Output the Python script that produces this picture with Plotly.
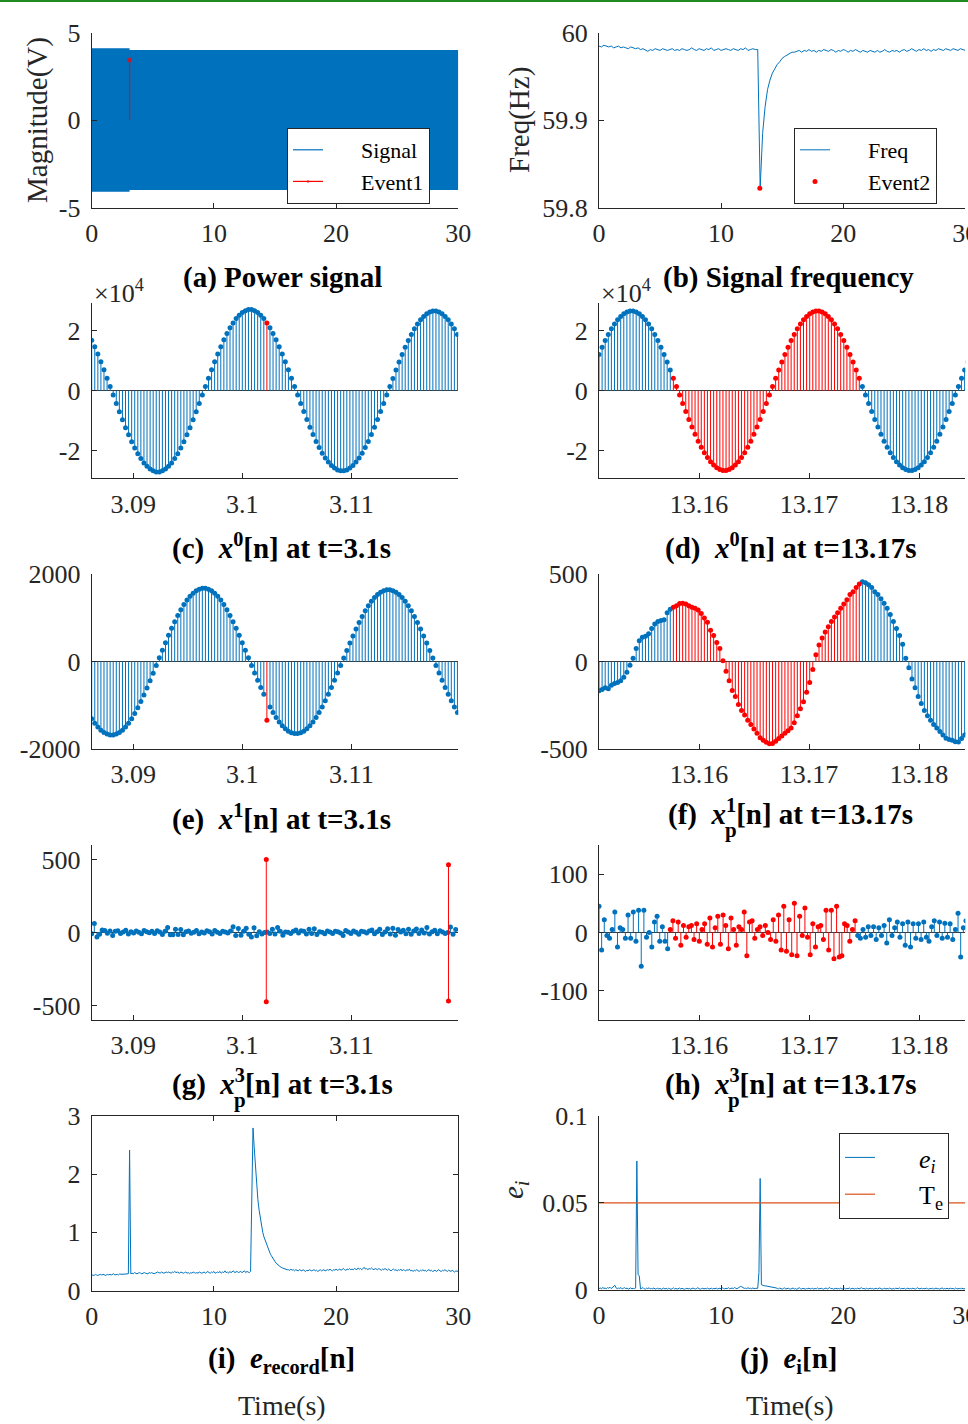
import numpy as np
import plotly.graph_objects as go

# ======================= DATA =======================
# (a) power signal: envelope of the dense 60 Hz waveform (V)
sig_env_t = [0, 3.1, 3.1, 30]
sig_env_hi = [4.12, 4.12, 4.03, 4.03]
sig_env_lo = [-4.10, -4.10, -4.00, -4.00]
event1_t = [3.1]
event1_v = [3.45]

# (b) frequency (Hz), samples every 0.2 s from 0 to 30 s
freq_t0, freq_dt = 0.0, 0.2
freq_v = [
    59.985, 59.984, 59.986, 59.985, 59.984, 59.985, 59.983, 59.984, 59.985, 59.983,
    59.984, 59.983, 59.982, 59.984, 59.983, 59.982, 59.983, 59.981, 59.982, 59.980,
    59.979, 59.981, 59.980, 59.982, 59.981, 59.980, 59.982, 59.981, 59.980, 59.981,
    59.982, 59.980, 59.981, 59.980, 59.982, 59.981, 59.980, 59.981, 59.983, 59.981,
    59.980, 59.982, 59.981, 59.980, 59.982, 59.981, 59.983, 59.980, 59.981, 59.982,
    59.980, 59.981, 59.982, 59.981, 59.980, 59.982, 59.981, 59.980, 59.982, 59.981,
    59.983, 59.980, 59.981, 59.982, 59.981, 59.981, 59.822, 59.885, 59.915, 59.935,
    59.946, 59.954, 59.959, 59.964, 59.967, 59.971, 59.973, 59.975, 59.976, 59.978,
    59.978, 59.979, 59.980, 59.978, 59.980, 59.979, 59.981, 59.979, 59.980, 59.978,
    59.980, 59.979, 59.981, 59.980, 59.979, 59.981, 59.980, 59.978, 59.980, 59.979,
    59.981, 59.980, 59.978, 59.980, 59.979, 59.981, 59.979, 59.978, 59.980, 59.979,
    59.978, 59.980, 59.979, 59.978, 59.980, 59.978, 59.979, 59.981, 59.979, 59.978,
    59.980, 59.979, 59.980, 59.978, 59.980, 59.981, 59.979, 59.980, 59.982, 59.980,
    59.979, 59.981, 59.980, 59.982, 59.980, 59.981, 59.979, 59.981, 59.980, 59.982,
    59.981, 59.980, 59.982, 59.981, 59.980, 59.982, 59.981, 59.980, 59.982, 59.981,
    59.980]
event2_t = [13.17]
event2_v = [59.822]

# (c) x0[n] around t=3.1 s (units of 1e4)
x0c_t0, x0c_dt = 3.0862, 0.0002817
x0c_v = [
    1.69, 1.47, 1.23, 0.97, 0.70, 0.42, 0.14,
    -0.14, -0.42, -0.70, -0.97, -1.23, -1.47, -1.70, -1.91, -2.10, -2.26, -2.41, -2.52, -2.61, -2.67, -2.71,
    -2.71, -2.67, -2.61, -2.52, -2.41, -2.26, -2.10, -1.91, -1.70, -1.47, -1.23, -0.97, -0.70, -0.42, -0.14,
    0.14, 0.42, 0.70, 0.97, 1.23, 1.47, 1.70, 1.91, 2.10, 2.26, 2.41, 2.52, 2.61, 2.67, 2.71,
    2.71, 2.67, 2.61, 2.52, 2.41, 2.26, 2.10, 1.91, 1.70, 1.47, 1.23, 0.97, 0.70, 0.42, 0.14,
    -0.14, -0.42, -0.69, -0.96, -1.22, -1.46, -1.69, -1.89, -2.08, -2.24, -2.38, -2.49, -2.58, -2.64, -2.67,
    -2.67, -2.64, -2.58, -2.49, -2.38, -2.24, -2.08, -1.89, -1.69, -1.46, -1.22, -0.96, -0.69, -0.42, -0.14,
    0.14, 0.41, 0.69, 0.96, 1.21, 1.45, 1.68, 1.88, 2.07, 2.23, 2.37, 2.48, 2.57, 2.63, 2.66,
    2.66, 2.63, 2.57, 2.48, 2.37, 2.23, 2.07, 1.88]
x0c_event_idx = [57]

# (d) x0[n] around t=13.17 s (units of 1e4)
x0d_t0, x0d_dt = 13.1509, 0.0002817
x0d_v = [
    1.21, 1.45, 1.68, 1.88, 2.07, 2.23, 2.37, 2.48, 2.57, 2.63, 2.66, 2.66, 2.63, 2.57, 2.48, 2.37,
    2.23, 2.07, 1.88, 1.68, 1.45, 1.21, 0.96, 0.69, 0.42, 0.14,
    -0.14, -0.42, -0.69, -0.96, -1.21, -1.45, -1.68, -1.88, -2.07, -2.23, -2.37, -2.48, -2.57, -2.63, -2.66,
    -2.66, -2.63, -2.57, -2.48, -2.37, -2.23, -2.07, -1.88, -1.68, -1.45, -1.21, -0.96, -0.69, -0.42, -0.14,
    0.14, 0.42, 0.69, 0.96, 1.21, 1.45, 1.68, 1.88, 2.07, 2.23, 2.37, 2.48, 2.57, 2.63, 2.66,
    2.66, 2.63, 2.57, 2.48, 2.37, 2.23, 2.07, 1.88, 1.68, 1.45, 1.21, 0.96, 0.69, 0.42, 0.14,
    -0.14, -0.42, -0.69, -0.96, -1.21, -1.45, -1.68, -1.88, -2.07, -2.23, -2.37, -2.48, -2.57, -2.63, -2.66,
    -2.66, -2.63, -2.57, -2.48, -2.37, -2.23, -2.07, -1.88, -1.68, -1.45, -1.21, -0.96, -0.69, -0.42, -0.14,
    0.14, 0.42, 0.69, 0.96]
x0d_event_win = [24, 84]

# (e) x1[n] around t=3.1 s
x1e_t0, x1e_dt = 3.0862, 0.0002817
x1e_v = [
    -1306, -1409, -1497, -1568, -1623, -1659, -1678, -1678, -1659, -1623, -1568,
    -1497, -1409, -1306, -1188, -1057, -915, -763, -602, -435, -263, -88,
    88, 263, 435, 602, 763, 915, 1057, 1188, 1306, 1409, 1497, 1568, 1623, 1659, 1678,
    1678, 1659, 1623, 1568, 1497, 1409, 1306, 1188, 1057, 915, 763, 602, 435, 263, 88,
    -86, -258, -426, -590, -748, -1340, -1036, -1164, -1280, -1381, -1467, -1537, -1591, -1626, -1644,
    -1644, -1626, -1591, -1537, -1467, -1381, -1280, -1164, -1036, -897, -748, -590, -426, -258, -86,
    86, 258, 426, 590, 748, 897, 1036, 1164, 1280, 1381, 1467, 1537, 1591, 1626, 1644,
    1644, 1626, 1591, 1537, 1467, 1381, 1280, 1164, 1036, 897, 748, 590, 426, 258, 86,
    -86, -258, -426, -590, -748, -897, -1036, -1164]
x1e_event_idx = [57]

# (f) x_p^1[n] around t=13.17 s
x1f_t0, x1f_dt = 13.1509, 0.0002817
x1f_v = [
    -167, -160, -150, -155, -135, -125, -120, -110, -90, -60,
    -20, 20, 75, 120, 140, 145, 160, 190, 215, 230,
    235, 240, 280, 300, 312, 320, 333, 335, 330, 320,
    312, 305, 295, 275, 250, 225, 180, 150, 110, 75,
    5, -55, -110, -165, -200, -245, -280, -305, -335, -360,
    -385, -410, -435, -450, -462, -470, -468, -455, -440, -425,
    -410, -395, -380, -350, -310, -270, -230, -175, -120, -45,
    40, 95, 135, 170, 200, 230, 255, 280, 305, 330,
    355, 385, 400, 425, 445, 458, 452, 440, 425, 400,
    385, 360, 335, 305, 270, 230, 190, 150, 100, 20,
    -35, -100, -150, -200, -240, -280, -310, -335, -360, -380,
    -400, -420, -438, -445, -450, -458, -460, -440, -420, -410]
x1f_event_win = [24, 84]

# (g) x_p^3[n] around t=3.1 s
x3g_t0, x3g_dt = 3.0862, 0.00024
x3g_v = [
    -8, 62, -30, -12, 18, 14, -5, 10, -20, 8,
    12, -6, 4, 16, -10, 6, -4, 10, 2, -8,
    14, 6, -2, 8, -6, 12, 4, -14, 8, 35,
    -15, -15, 22, -14, 20, -16, 6, 10, -5, 2,
    14, -8, 4, -4, 12, 6, -10, 14, 2, -6,
    8, 4, -4, 10, 40, -20, 28, -18, 8, 30,
    -12, -30, 32, -22, 6, -10, 0, 4, -6, 22,
    -10, 35, 8, -18, 4, 2, -6, 8, 18, -4,
    12, 8, -10, 22, -6, 25, -14, 6, 2, -8,
    10, 4, -6, 8, 6, -4, -20, 14, 4, -6,
    10, 2, -12, 8, 6, -4, 10, 18, -8, 6,
    22, -14, 4, 26, -10, 30, -18, 20, 4, 16,
    -8, 22, -12, 10, 24, -6, 18, -4, 35, -10,
    6, 15, -8, 12, 4, -6, 0, 38, -12, 20]
x3g_event_t = [3.1022, 3.1022, 3.1189, 3.1189]
x3g_event_v = [500, -475, 465, -470]

# (h) x_p^3[n] around t=13.17 s
x3h_t0, x3h_dt = 13.1509, 0.00024
x3h_v = [
    45, -30, 22, -5, -10, 5, 35, -25, 8, 5,
    -10, 30, -10, 35, -15, 38, -58, 38, -8, 0,
    -25, 18, 28, -15, 10, -15, -28,
    5, 20, -10, 18, -22, 12, -8, 10, 12, -12,
    15, -15, 5, 15, -20, 25, -25, 8, 28, -20,
    30, 12, -28, 25, 5, -22, 10, 5, 35, -40,
    18, 20, -10, 5, 10, -5, 12, 0, -12, 22,
    -15, 30, -30, 45, -32, 22, -38, 50, -40, 28,
    -5, 42, -8, -38, 15, -25, 10, 12, -12, 38,
    -30, 38, -45, 45, -42, -40, 15, 12, -15, 5,
    20,
    -5, -10, 5, -8, 10, -5, 10, -12, 8, -5,
    12, -18, 22, -5, 8, 18, -8, 15, -22, 18,
    -25, 15, -10, 15, -12, 18, -8, -15, 10, 20,
    -5, 18, -10, 16, -8, 15, -12, 5, 33, -42,
    8, 20]
x3h_event_win = [27, 97]

# (i) e_record[n], samples every 0.1 s
erec_t0, erec_dt = 0.0, 0.1
erec_v = [
    0.26, 0.27, 0.26, 0.28, 0.27, 0.26, 0.27, 0.28, 0.27, 0.27,
    0.28, 0.26, 0.27, 0.28, 0.27, 0.28, 0.27, 0.28, 0.29, 0.27,
    0.28, 0.28, 0.27, 0.29, 0.28, 0.28, 0.29, 0.28, 0.29, 0.28,
    0.29, 2.41,
    0.29, 0.30, 0.29, 0.31, 0.30, 0.29, 0.30, 0.31, 0.30, 0.29,
    0.30, 0.31, 0.30, 0.30, 0.29, 0.31, 0.30, 0.31, 0.30, 0.29,
    0.30, 0.31, 0.32, 0.31, 0.30, 0.32, 0.31, 0.30, 0.31, 0.32,
    0.31, 0.32, 0.31, 0.30, 0.32, 0.31, 0.33, 0.31, 0.32, 0.31,
    0.30, 0.32, 0.31, 0.30, 0.31, 0.32, 0.30, 0.31, 0.29, 0.31,
    0.30, 0.32, 0.31, 0.30, 0.31, 0.30, 0.32, 0.31, 0.30, 0.31,
    0.32, 0.30, 0.31, 0.33, 0.31, 0.30, 0.32, 0.31, 0.33, 0.30,
    0.31, 0.32, 0.31, 0.33, 0.30, 0.32, 0.31, 0.34, 0.31, 0.32,
    0.30, 0.33, 0.31, 0.32, 0.34, 0.31, 0.32, 0.33, 0.31, 0.32,
    0.33, 0.31, 0.32, 0.34, 0.31, 0.33, 0.32, 0.31,
    0.33, 1.55, 2.79,
    2.45, 2.10, 1.80, 1.56, 1.38, 1.23, 1.10, 1.00, 0.92, 0.86,
    0.79, 0.74, 0.69, 0.64, 0.60, 0.56, 0.52, 0.50, 0.47, 0.45,
    0.43, 0.42, 0.40, 0.39, 0.38, 0.37, 0.37, 0.36,
    0.36, 0.35, 0.37, 0.35, 0.36, 0.34, 0.36, 0.35, 0.34, 0.36,
    0.35, 0.34, 0.36, 0.35, 0.33, 0.35, 0.34, 0.36, 0.35, 0.34,
    0.35, 0.36, 0.34, 0.35, 0.33, 0.35, 0.36, 0.34, 0.35, 0.36,
    0.34, 0.35, 0.36, 0.35, 0.37, 0.35, 0.34, 0.36, 0.35, 0.37,
    0.35, 0.36, 0.37, 0.35, 0.36, 0.38, 0.36, 0.35, 0.37, 0.36,
    0.38, 0.36, 0.37, 0.36, 0.38, 0.37, 0.36, 0.39, 0.37, 0.38,
    0.36, 0.38, 0.40, 0.37, 0.38, 0.36, 0.38, 0.37, 0.39, 0.37,
    0.36, 0.38, 0.37, 0.36, 0.38, 0.37, 0.35, 0.37, 0.36, 0.38,
    0.36, 0.35, 0.37, 0.36, 0.34, 0.36, 0.37, 0.35, 0.36, 0.34,
    0.36, 0.35, 0.37, 0.34, 0.36, 0.35, 0.34, 0.36, 0.35, 0.37,
    0.34, 0.35, 0.33, 0.35, 0.34, 0.36, 0.34, 0.33, 0.35, 0.34,
    0.36, 0.34, 0.35, 0.33, 0.35, 0.36, 0.34, 0.35, 0.33, 0.34,
    0.35, 0.33, 0.34, 0.36, 0.34, 0.33, 0.35, 0.34, 0.36, 0.34,
    0.33, 0.35, 0.34, 0.33, 0.35, 0.34, 0.32, 0.34, 0.33, 0.33]

# (j) e_i[n] in units of 1e-3, samples every 0.1 s
ei_t0, ei_dt = 0.0, 0.1
ei_milli = [
    0.8, 1.2, 0.6, 1.5, 0.9, 1.1, 0.7, 1.4, 1.0, 1.6,
    0.8, 1.3, 1.9, 2.7, 1.2, 0.7, 1.1, 0.9, 1.4, 0.6,
    1.0, 1.3, 0.8, 1.1, 0.5, 0.9, 1.2, 0.7, 1.0, 0.8,
    1.1, 74, 9, 8,
    0.6, 0.9, 1.4, 0.7, 0.5, 1.1, 0.8, 1.3, 0.6, 0.9,
    0.7, 1.2, 0.5, 0.8, 1.0, 0.6, 0.9, 0.4, 0.8, 1.1,
    0.6, 0.9, 0.5, 1.0, 0.7, 0.4, 0.8, 1.2, 0.6, 0.9,
    0.5, 0.8, 1.1, 0.6, 0.9, 0.7, 0.4, 0.8, 1.0, 0.6,
    0.9, 0.5, 0.7, 1.1, 0.8, 0.6, 0.9, 1.3, 0.7, 0.5,
    0.8, 1.0, 0.6, 0.9, 0.7, 1.2, 0.5, 0.8, 1.0, 0.6,
    0.9, 0.7, 1.1, 0.6, 0.8, 1.0, 0.7, 1.2, 0.9, 0.6,
    1.0, 0.8, 1.3, 0.7, 0.9, 1.1, 0.8, 1.4, 1.0, 0.7,
    1.2, 1.6, 2.1, 1.8, 1.2, 0.9, 1.1, 0.8, 1.3, 0.9,
    1.0, 0.7, 1.2, 0.8, 0.9, 1.1,
    1.0, 10, 64,
    3.0, 2.6, 2.5, 2.4, 2.3, 2.2, 2.0, 1.9, 1.8, 1.6, 1.5, 1.3, 1.2,
    0.9, 0.6, 1.1, 0.7, 0.5, 0.9, 1.2, 0.6, 0.8, 1.0,
    0.7, 0.5, 0.9, 1.1, 0.6, 0.8, 0.4, 0.9, 1.3, 0.7,
    0.6, 1.0, 0.8, 0.5, 0.9, 0.7, 1.1, 0.6, 0.8, 1.0,
    0.5, 0.9, 0.7, 1.2, 0.6, 0.8, 1.0, 0.7, 0.5, 0.9,
    1.1, 0.6, 0.8, 1.4, 0.7, 0.9, 0.5, 0.8, 1.0, 0.6,
    0.9, 0.7, 1.1, 0.5, 0.8, 1.0, 0.6, 0.9, 0.7, 1.2,
    0.6, 0.8, 1.0, 0.5, 0.9, 0.7, 1.1, 0.6, 0.8, 1.3,
    0.7, 0.9, 0.5, 1.0, 0.8, 0.6, 1.1, 0.7, 0.9, 0.5,
    0.8, 1.0, 0.6, 0.9, 1.2, 0.7, 0.5, 0.8, 1.0, 0.6,
    0.9, 0.7, 1.1, 0.8, 0.5, 0.9, 0.6, 1.0, 0.7, 0.8,
    1.2, 0.6, 0.9, 0.7, 1.0, 0.5, 0.8, 1.1, 0.6, 0.9,
    0.7, 1.0, 0.8, 0.5, 0.9, 1.3, 0.6, 0.8, 1.0, 0.7,
    0.9, 0.6, 1.1, 0.8, 0.5, 0.9, 0.7, 1.0, 0.6, 0.8,
    1.1, 0.7, 0.9, 0.5, 0.8, 1.2, 0.6, 0.9, 0.7, 1.0,
    0.6, 0.8, 1.0, 0.7, 0.9, 0.5, 1.1, 0.8, 0.6, 0.9,
    0.7, 1.0, 0.8, 0.6, 0.9]
threshold_t = [0, 30]
threshold_v = [0.05, 0.05]

# ======================= STYLE =======================
W, H = 968, 1424
BLUE, RED, ORANGE = '#0072BD', '#FF0000', '#D95319'
FONT = 'Liberation Serif'
AXC = '#262626'
NB = '\u00a0'


def px(x):
    return x / W


def py(y):
    return 1 - y / H


def grid(t0, dt, n):
    return t0 + dt * np.arange(n)


# panel boxes in pixels: left, right, top, bottom
GEOM = {
    1: (91.7, 458.3, 33.0, 207.5), 2: (599.0, 965.3, 33.0, 207.5),
    3: (91.7, 458.3, 303.3, 478.3), 4: (599.0, 965.3, 303.3, 478.3),
    5: (91.7, 458.3, 574.3, 749.0), 6: (599.0, 965.3, 574.3, 749.0),
    7: (91.7, 458.3, 845.0, 1020.0), 8: (599.0, 965.3, 845.0, 1020.0),
    9: (91.7, 458.3, 1115.7, 1290.7), 10: (599.0, 965.3, 1115.7, 1290.0),
}

fig = go.Figure()


def ax(i):
    return ('x' if i == 1 else 'x%d' % i), ('y' if i == 1 else 'y%d' % i)


def add_stems(i, tt, vv, color, msize=5):
    xa, ya = ax(i)
    xs, ys = [], []
    for a, b in zip(tt, vv):
        xs += [a, a, None]
        ys += [0, b, None]
    fig.add_trace(go.Scatter(x=xs, y=ys, mode='lines', line=dict(color=color, width=1),
                             xaxis=xa, yaxis=ya, showlegend=False, hoverinfo='skip'))
    fig.add_trace(go.Scatter(x=list(tt), y=list(vv), mode='markers',
                             marker=dict(color=color, size=msize, line=dict(width=0)),
                             xaxis=xa, yaxis=ya, showlegend=False, hoverinfo='skip'))


def split_win(tt, vv, win):
    a, b = win
    inside = [(t, v) for k, (t, v) in enumerate(zip(tt, vv)) if a <= k <= b]
    outside = [(t, v) for k, (t, v) in enumerate(zip(tt, vv)) if not (a <= k <= b)]
    return outside, inside


# ---- (a) ----
fig.add_trace(go.Scatter(x=sig_env_t, y=sig_env_lo, mode='lines', line=dict(width=0, color=BLUE),
                         xaxis='x', yaxis='y', showlegend=False, hoverinfo='skip'))
fig.add_trace(go.Scatter(x=sig_env_t, y=sig_env_hi, mode='lines', line=dict(width=0, color=BLUE),
                         fill='tonexty', fillcolor=BLUE, xaxis='x', yaxis='y', showlegend=False,
                         hoverinfo='skip'))
fig.add_trace(go.Scatter(x=[None], y=[None], mode='lines', line=dict(color=BLUE, width=1.2),
                         name=NB * 6 + 'Signal', xaxis='x', yaxis='y', legend='legend'))
for t, v in zip(event1_t, event1_v):
    fig.add_trace(go.Scatter(x=[t, t], y=[0, v], mode='lines+markers',
                             line=dict(color=RED, width=1.2),
                             marker=dict(color=RED, size=[0, 5], line=dict(width=0)),
                             name=NB * 6 + 'Event1', xaxis='x', yaxis='y', legend='legend'))

# ---- (b) ----
freq_t = grid(freq_t0, freq_dt, len(freq_v))
fig.add_trace(go.Scatter(x=freq_t, y=freq_v, mode='lines', line=dict(color=BLUE, width=1),
                         name=NB * 6 + 'Freq', xaxis='x2', yaxis='y2', legend='legend2'))
fig.add_trace(go.Scatter(x=event2_t, y=event2_v, mode='markers', marker=dict(color=RED, size=5),
                         name=NB * 6 + 'Event2', xaxis='x2', yaxis='y2', legend='legend2'))

# ---- (c) ----
tc = grid(x0c_t0, x0c_dt, len(x0c_v))
blue_c = [(t, v) for k, (t, v) in enumerate(zip(tc, x0c_v)) if k not in x0c_event_idx]
red_c = [(t, v) for k, (t, v) in enumerate(zip(tc, x0c_v)) if k in x0c_event_idx]
add_stems(3, [p[0] for p in blue_c], [p[1] for p in blue_c], BLUE)
add_stems(3, [p[0] for p in red_c], [p[1] for p in red_c], RED)

# ---- (d) ----
td = grid(x0d_t0, x0d_dt, len(x0d_v))
o, ins = split_win(td, x0d_v, x0d_event_win)
add_stems(4, [p[0] for p in o], [p[1] for p in o], BLUE)
add_stems(4, [p[0] for p in ins], [p[1] for p in ins], RED)

# ---- (e) ----
te = grid(x1e_t0, x1e_dt, len(x1e_v))
blue_e = [(t, v) for k, (t, v) in enumerate(zip(te, x1e_v)) if k not in x1e_event_idx]
red_e = [(t, v) for k, (t, v) in enumerate(zip(te, x1e_v)) if k in x1e_event_idx]
add_stems(5, [p[0] for p in blue_e], [p[1] for p in blue_e], BLUE)
add_stems(5, [p[0] for p in red_e], [p[1] for p in red_e], RED)

# ---- (f) ----
tf = grid(x1f_t0, x1f_dt, len(x1f_v))
o, ins = split_win(tf, x1f_v, x1f_event_win)
add_stems(6, [p[0] for p in o], [p[1] for p in o], BLUE)
add_stems(6, [p[0] for p in ins], [p[1] for p in ins], RED)

# ---- (g) ----
tg = grid(x3g_t0, x3g_dt, len(x3g_v))
add_stems(7, tg, x3g_v, BLUE)
add_stems(7, x3g_event_t, x3g_event_v, RED)

# ---- (h) ----
th = grid(x3h_t0, x3h_dt, len(x3h_v))
o, ins = split_win(th, x3h_v, x3h_event_win)
add_stems(8, [p[0] for p in o], [p[1] for p in o], BLUE)
add_stems(8, [p[0] for p in ins], [p[1] for p in ins], RED)

# ---- (i) ----
ti = grid(erec_t0, erec_dt, len(erec_v))
fig.add_trace(go.Scatter(x=ti, y=erec_v, mode='lines', line=dict(color=BLUE, width=1),
                         xaxis='x9', yaxis='y9', showlegend=False, hoverinfo='skip'))

# ---- (j) ----
tj = grid(ei_t0, ei_dt, len(ei_milli))
fig.add_trace(go.Scatter(x=tj, y=[v / 1000.0 for v in ei_milli], mode='lines',
                         line=dict(color=BLUE, width=1), name=NB * 6 + '<i>e<sub>i</sub></i>',
                         xaxis='x10', yaxis='y10', legend='legend3'))
fig.add_trace(go.Scatter(x=threshold_t, y=threshold_v, mode='lines',
                         line=dict(color=ORANGE, width=1.2), name=NB * 6 + 'T<sub>e</sub>',
                         xaxis='x10', yaxis='y10', legend='legend3'))

# ======================= AXES =======================
tickfont = dict(family=FONT, size=26, color=AXC)


def base_axis(**kw):
    d = dict(showline=True, linecolor=AXC, linewidth=1, ticks='inside', ticklen=5,
             tickcolor=AXC, tickwidth=1, showgrid=False, zeroline=False, tickfont=tickfont,
             fixedrange=True, automargin=False, ticklabeloverflow='allow')
    d.update(kw)
    return d


x_full = dict(range=[0, 30], tickvals=[0, 10, 20, 30], ticktext=['0', '10', '20', '30'])
x_c = dict(range=[3.0862, 3.1198], tickvals=[3.09, 3.1, 3.11], ticktext=['3.09', '3.1', '3.11'])
x_d = dict(range=[13.1509, 13.1842], tickvals=[13.16, 13.17, 13.18],
           ticktext=['13.16', '13.17', '13.18'])

YSPEC = {
    1: dict(range=[-5, 5], tickvals=[-5, 0, 5], ticktext=['-5', '0', '5']),
    2: dict(range=[59.8, 60], tickvals=[59.8, 59.9, 60], ticktext=['59.8', '59.9', '60']),
    3: dict(range=[-2.92, 2.92], tickvals=[-2, 0, 2], ticktext=['-2', '0', '2']),
    4: dict(range=[-2.92, 2.92], tickvals=[-2, 0, 2], ticktext=['-2', '0', '2']),
    5: dict(range=[-2000, 2000], tickvals=[-2000, 0, 2000], ticktext=['-2000', '0', '2000']),
    6: dict(range=[-500, 500], tickvals=[-500, 0, 500], ticktext=['-500', '0', '500']),
    7: dict(range=[-600, 600], tickvals=[-500, 0, 500], ticktext=['-500', '0', '500']),
    8: dict(range=[-150, 150], tickvals=[-100, 0, 100], ticktext=['-100', '0', '100']),
    9: dict(range=[0, 3], tickvals=[0, 1, 2, 3], ticktext=['0', '1', '2', '3']),
    10: dict(range=[0, 0.1], tickvals=[0, 0.05, 0.1], ticktext=['0', '0.05', '0.1']),
}
XSPEC = {1: x_full, 2: x_full, 3: x_c, 4: x_d, 5: x_c, 6: x_d, 7: x_c, 8: x_d, 9: x_full, 10: x_full}

layout_axes = {}
for i in range(1, 11):
    l, r, t, b = GEOM[i]
    xa, ya = ax(i)
    xkey = 'xaxis' if i == 1 else 'xaxis%d' % i
    ykey = 'yaxis' if i == 1 else 'yaxis%d' % i
    xd = base_axis(domain=[px(l), px(r)], anchor=ya, ticklabelstandoff=2, **XSPEC[i])
    yd = base_axis(domain=[py(b), py(t)], anchor=xa, ticklabelstandoff=5, **YSPEC[i])
    if 3 <= i <= 8:
        yd.update(zeroline=True, zerolinecolor='#3a3a3a', zerolinewidth=1)
    if i == 9:
        xd.update(mirror='ticks')
        yd.update(mirror='ticks')
    layout_axes[xkey] = xd
    layout_axes[ykey] = yd

fig.update_layout(**layout_axes)

# ======================= TEXT =======================
ann = []


def text(x, y, s, size=29, color='black', xanchor='center', yanchor='middle', angle=0):
    ann.append(dict(x=px(x), y=py(y), xref='paper', yref='paper', text=s, showarrow=False,
                    xanchor=xanchor, yanchor=yanchor, textangle=angle,
                    font=dict(family=FONT, size=size, color=color)))


text(282, 277, '<b>(a) Power signal</b>')
text(788, 277, '<b>(b) Signal frequency</b>')
text(281, 546, '<b>(c)' + NB + ' <i>x</i><sup>0</sup>[n] at t=3.1s</b>')
text(790, 546, '<b>(d)' + NB + ' <i>x</i><sup>0</sup>[n] at t=13.17s</b>')
text(281, 817, '<b>(e)' + NB + ' <i>x</i><sup>1</sup>[n] at t=3.1s</b>')
text(790, 812, '<b>(f)' + NB + ' <i>x</i><sup>1</sup>[n] at t=13.17s</b>')
text(731, 830, '<b>p</b>', size=21)
text(282, 1082, '<b>(g)' + NB + ' <i>x</i><sup>3</sup>[n] at t=3.1s</b>')
text(240, 1100, '<b>p</b>', size=21)
text(790, 1082, '<b>(h)' + NB + ' <i>x</i><sup>3</sup>[n] at t=13.17s</b>')
text(734, 1100, '<b>p</b>', size=21)
text(281, 1360, '<b>(i)' + NB + ' <i>e</i><sub>record</sub>[n]</b>')
text(788, 1360, '<b>(j)' + NB + ' <i>e</i><sub>i</sub>[n]</b>')
text(282, 1405, 'Time(s)', size=28, color=AXC)
text(790, 1405, 'Time(s)', size=28, color=AXC)
text(38, 120, 'Magnitude(V)', size=29, color=AXC, angle=-90)
text(520, 120, 'Freq(Hz)', size=29, color=AXC, angle=-90)
text(515, 1190, '<i>e<sub>i</sub></i>', size=29, color=AXC, angle=-90)
text(92, 291, '\u00d710<sup>4</sup>', size=26, color=AXC, xanchor='left')
text(599, 291, '\u00d710<sup>4</sup>', size=26, color=AXC, xanchor='left')

legfont = dict(family=FONT, size=22, color='black')
leg_common = dict(xanchor='left', yanchor='top', bgcolor='white', bordercolor=AXC,
                  borderwidth=1, font=legfont, tracegroupgap=0, traceorder='normal')

fig.update_layout(
    width=W, height=H, margin=dict(l=0, r=0, t=0, b=0, pad=0, autoexpand=False),
    paper_bgcolor='white', plot_bgcolor='white',
    font=dict(family=FONT, color=AXC),
    annotations=ann, showlegend=True,
    legend=dict(x=px(287), y=py(128), **leg_common),
    legend2=dict(x=px(794), y=py(128), **leg_common),
    legend3=dict(x=px(839), y=py(1133), **dict(leg_common, font=dict(family=FONT, size=26, color='black'))),
    shapes=[dict(type='line', xref='paper', yref='paper', x0=0, x1=1, y0=py(1), y1=py(1),
                 line=dict(color='#1f8a1f', width=2))],
)

fig.write_html('out.html', config={'displayModeBar': False},
               post_script="document.body.style.margin='0px';")
